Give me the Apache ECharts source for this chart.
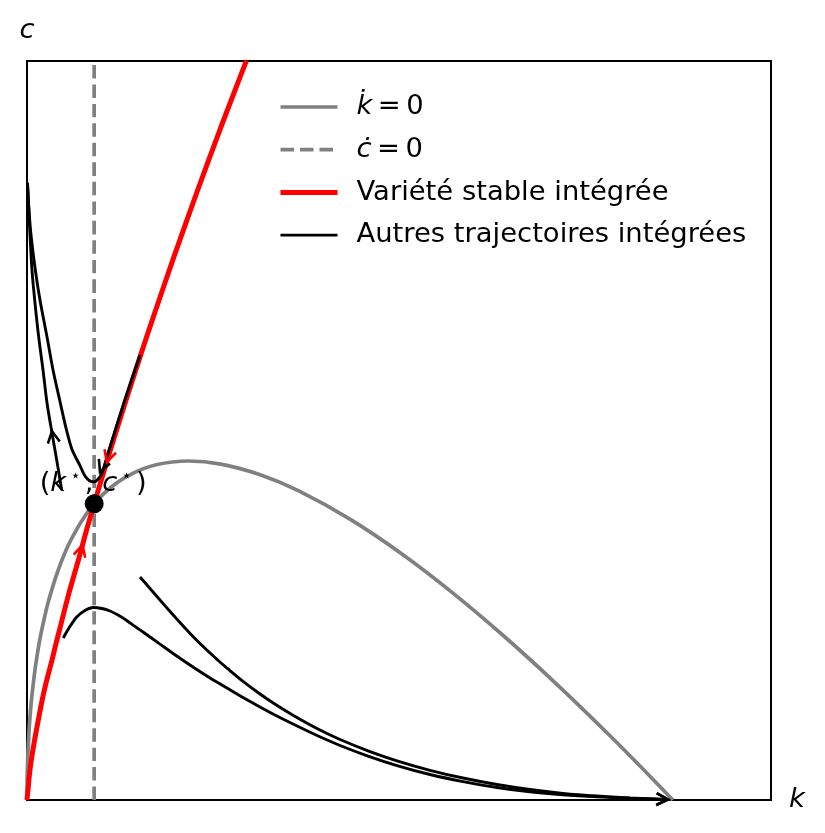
<!DOCTYPE html>
<html>
<head>
<meta charset="utf-8">
<title>Diagramme de phase</title>
<script src="https://cdn.jsdelivr.net/npm/echarts@6/dist/echarts.min.js"></script>
<style>
  html, body { margin: 0; padding: 0; background: #fff; }
  #chart { width: 825px; height: 833px; }
</style>
</head>
<body>
<div id="chart"></div>
<script>
// courbe k̇ = 0
const kdotK = [0, 0.031, 0.108, 0.356, 0.619, 0.883, 1.208, 1.548, 2.013, 2.586, 3.174, 3.871, 4.568, 5.419, 6.503, 7.742, 8.981, 10.4, 13, 16, 20, 25, 30, 36, 42, 50, 58, 66, 74, 82, 90, 95, 100];
const kdotC = [0, 0.16, 0.3, 0.54, 0.7, 0.82, 0.95, 1.06, 1.19, 1.32, 1.44, 1.555, 1.66, 1.77, 1.89, 2.0, 2.095, 2.185, 2.306, 2.4, 2.472, 2.5, 2.477, 2.4, 2.281, 2.071, 1.816, 1.524, 1.202, 0.855, 0.487, 0.247, 0];

// droite ċ = 0 (k = k*)
const kStar = 10.4;
const cStar = 2.185;
const cdotK = [kStar, kStar];
const cdotC = [0, 5.45];

// variété stable
const stableK = [0, 0.046, 0.155, 0.356, 0.666, 1.084, 1.548, 2.044, 2.586, 3.205, 3.871, 4.49, 5.156, 5.806, 6.457, 7.2, 8.005, 9.182, 10.4, 12.85, 15.33, 17.34, 19.35, 22.76, 26.32, 29.96, 33.99];
const stableC = [0, 0.026, 0.074, 0.177, 0.295, 0.417, 0.538, 0.664, 0.789, 0.911, 1.032, 1.154, 1.276, 1.401, 1.519, 1.645, 1.777, 1.984, 2.185, 2.572, 2.949, 3.244, 3.533, 4.007, 4.484, 4.954, 5.454];

// autres trajectoires
const trajA = [[17.5, 3.282], [15.1, 2.943], [12.65, 2.574], [11.61, 2.412], [10.92, 2.362], [10.4, 2.347], [9.75, 2.353], [8.98, 2.389], [8.21, 2.466], [6.97, 2.585], [6.04, 2.743], [5.16, 2.928], [4.03, 3.171], [3.1, 3.415], [2.01, 3.687], [1.29, 3.909], [0.62, 4.167], [0.31, 4.351], [0.077, 4.551]];
const trajB = [[5.37, 2.286], [4.6, 2.507], [3.87, 2.707], [3.1, 2.928], [2.48, 3.171], [1.81, 3.415], [1.24, 3.665], [0.77, 3.909], [0.31, 4.314], [0.077, 4.551]];
const trajC = [[5.62, 1.195], [6.5, 1.268], [7.7, 1.35], [8.98, 1.398], [10.27, 1.42], [11.61, 1.412], [12.85, 1.394], [14.09, 1.364], [15.44, 1.324], [16.72, 1.28], [17.96, 1.239], [20.59, 1.15], [23.07, 1.066], [25.7, 0.981], [28.34, 0.9], [30.97, 0.826], [33.45, 0.756], [36.08, 0.686], [38.55, 0.623], [41.19, 0.56], [44.75, 0.479], [48.47, 0.402], [52.8, 0.324], [57.29, 0.254], [62.4, 0.188], [67.51, 0.136], [72.77, 0.092], [77.88, 0.06], [82.99, 0.038], [88.26, 0.023], [93.37, 0.013], [99.25, 0.004]];
const trajD = [[17.5, 1.645], [19.05, 1.56], [20.59, 1.475], [21.91, 1.403], [23.23, 1.333], [24.46, 1.268], [25.7, 1.206], [27.02, 1.143], [28.34, 1.084], [29.65, 1.027], [30.97, 0.973], [33.45, 0.875], [36.08, 0.782], [38.55, 0.702], [41.19, 0.625], [44.75, 0.531], [48.47, 0.446], [52.8, 0.363], [57.29, 0.289], [62.4, 0.219], [67.51, 0.162], [72.77, 0.114], [77.88, 0.077], [82.99, 0.049], [88.26, 0.029], [93.37, 0.015], [99.25, 0.003]];

// flèches : [k pointe, c pointe, k arrière, c arrière]
const redArrows = [[12.36, 2.493, 15.33, 2.949], [8.6, 1.88, 8.0, 1.777]];
const blackArrows = [[11.3, 2.42, 12.65, 2.574], [3.87, 2.72, 4.6, 2.507], [99.25, 0.004, 88.26, 0.023], [99.25, 0.003, 88.26, 0.029]];

const kMax = 115.2;
const cMax = 5.45;

const names = ['k\u0307 = 0', 'c\u0307 = 0', 'Variété stable intégrée', 'Autres trajectoires intégrées'];
const FONT = 'DejaVu Sans';
const FS = 27.4;

function zip(xs, ys) {
  return xs.map((x, i) => [x, ys[i]]);
}

function arrowSeries(data, color) {
  return {
    type: 'custom',
    data: data,
    z: 5,
    silent: true,
    renderItem: function (params, api) {
      const tip = api.coord([api.value(0), api.value(1)]);
      const tail = api.coord([api.value(2), api.value(3)]);
      const a = Math.atan2(tip[1] - tail[1], tip[0] - tail[0]);
      const len = 13, spread = 0.48;
      const p1 = [tip[0] - len * Math.cos(a - spread), tip[1] - len * Math.sin(a - spread)];
      const p2 = [tip[0] - len * Math.cos(a + spread), tip[1] - len * Math.sin(a + spread)];
      return {
        type: 'polyline',
        shape: { points: [p1, tip, p2] },
        style: { stroke: color, lineWidth: 2.6, fill: null, lineJoin: 'miter' }
      };
    }
  };
}

function curve(name, data, color, width, z, type) {
  return {
    name: name,
    type: 'line',
    data: data,
    symbol: 'none',
    smooth: 0.3,
    z: z,
    lineStyle: { color: color, width: width, type: type || 'solid' },
    itemStyle: { color: color }
  };
}

const chart = echarts.init(document.getElementById('chart'));
chart.setOption({
  animation: false,
  backgroundColor: '#fff',
  grid: {
    left: 27, top: 61, right: 54, bottom: 33,
    show: true, borderColor: '#000', borderWidth: 2, backgroundColor: 'transparent'
  },
  xAxis: {
    type: 'value', min: 0, max: kMax,
    name: 'k', nameLocation: 'end', nameGap: 18,
    nameTextStyle: { fontFamily: FONT, fontSize: FS, fontStyle: 'italic', color: '#000' },
    axisLine: { show: false }, axisTick: { show: false },
    axisLabel: { show: false }, splitLine: { show: false }
  },
  yAxis: {
    type: 'value', min: 0, max: cMax,
    name: 'c', nameLocation: 'end', nameGap: 17,
    nameTextStyle: { fontFamily: FONT, fontSize: FS, fontStyle: 'italic', color: '#000', align: 'center' },
    axisLine: { show: false }, axisTick: { show: false },
    axisLabel: { show: false }, splitLine: { show: false }
  },
  legend: {
    orient: 'vertical',
    left: 273,
    top: 87,
    itemWidth: 57,
    itemHeight: 14,
    itemGap: 12.7,
    selectedMode: false,
    data: names,
    itemStyle: { opacity: 0 },
    lineStyle: { width: 'inherit' },
    formatter: function (name) {
      if (name === names[0] || name === names[1]) {
        return '{m|' + name.slice(0, 2) + '}{r|\u2009=\u20090}';
      }
      return '{r|' + name + '}';
    },
    textStyle: {
      padding: [0, 0, 0, 14],
      lineHeight: 30,
      rich: {
        m: { fontFamily: FONT, fontSize: FS, fontStyle: 'italic', color: '#000', lineHeight: 30 },
        r: { fontFamily: FONT, fontSize: FS, color: '#000', lineHeight: 30 }
      }
    }
  },
  series: [
    curve(names[0], zip(kdotK, kdotC), '#808080', 3.7, 2),
    curve(names[1], zip(cdotK, cdotC), '#808080', 3.7, 2, [13.5, 6]),
    curve(names[2], zip(stableK, stableC), '#ff0000', 5, 3),
    curve(names[3], trajA, '#000', 2.9, 4),
    curve(names[3], trajB, '#000', 2.9, 4),
    curve(names[3], trajC, '#000', 2.9, 4),
    curve(names[3], trajD, '#000', 2.9, 4),
    arrowSeries(redArrows, '#ff0000'),
    arrowSeries(blackArrows, '#000'),
    {
      type: 'scatter',
      data: [[kStar, cStar]],
      symbolSize: 19,
      z: 6,
      itemStyle: { color: '#000', opacity: 1 },
      label: {
        show: true,
        position: 'inside',
        offset: [-1, -20],
        formatter: '{p|(}{i|k}{s|⋆}{p|, }{i|c}{s|⋆}{p|)}',
        rich: {
          p: { fontFamily: FONT, fontSize: FS, color: '#000', lineHeight: 32 },
          i: { fontFamily: FONT, fontSize: FS, fontStyle: 'italic', color: '#000', lineHeight: 32 },
          s: { fontFamily: FONT, fontSize: 17, color: '#000', lineHeight: 16, verticalAlign: 'top', padding: [0, 4, 0, 4] }
        }
      }
    }
  ]
});
</script>
</body>
</html>
